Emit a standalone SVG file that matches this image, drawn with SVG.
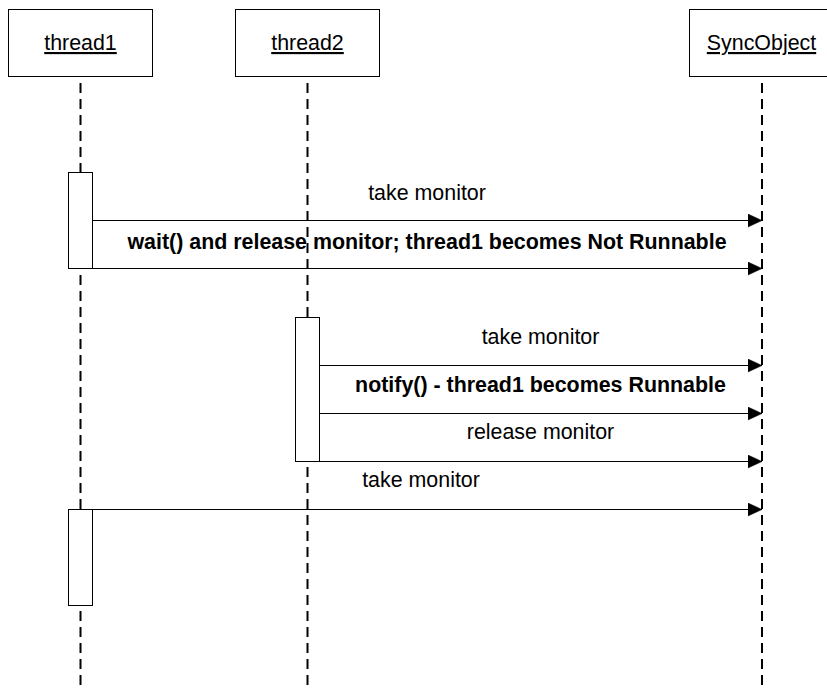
<svg xmlns="http://www.w3.org/2000/svg" width="827" height="689" viewBox="0 0 827 689">
<defs>
<marker id="arr" markerWidth="14" markerHeight="14" refX="14" refY="7" orient="auto" markerUnits="userSpaceOnUse">
<path d="M0,0.5 L14,7 L0,13.5 Z" fill="#000" stroke="#000" stroke-width="0.5"/>
</marker>
<style>
.box{fill:#fff;stroke:#000;stroke-width:1}
.act{fill:#fff;stroke:#000;stroke-width:1}
.life{stroke:#000;stroke-width:2;stroke-dasharray:10 6;fill:none}
.msg{stroke:#000;stroke-width:1;fill:none;marker-end:url(#arr)}
.lbl{font-family:"Liberation Sans",Arial,sans-serif;font-size:21.4px;fill:#000;text-anchor:middle}
.b{font-weight:bold}
.name{text-decoration:underline}
</style>
</defs>
<rect width="827" height="689" fill="#fff"/>
<g id="lifelines">
<line class="life" x1="80.5" y1="83" x2="80.5" y2="689"/>
<line class="life" x1="307.5" y1="83" x2="307.5" y2="689"/>
<line class="life" x1="762" y1="83" x2="762" y2="689"/>
</g>
<g id="thread1">
<rect class="box" x="8.5" y="9.5" width="144" height="67"/>
<text class="lbl name" x="80.5" y="50">thread1</text>
</g>
<g id="thread2">
<rect class="box" x="235.5" y="9.5" width="144" height="67"/>
<text class="lbl name" x="307.5" y="50">thread2</text>
</g>
<g id="SyncObject">
<rect class="box" x="689.5" y="9.5" width="144" height="67"/>
<text class="lbl name" x="761.5" y="50">SyncObject</text>
</g>
<g id="activation1">
<rect class="act" x="68.5" y="172.5" width="24" height="96"/>
</g>
<g id="activation2">
<rect class="act" x="295.5" y="317.5" width="24" height="144"/>
</g>
<g id="activation3">
<rect class="act" x="68.5" y="509.5" width="24" height="96"/>
</g>
<g id="connectors">
<line class="msg" x1="92.5" y1="220.5" x2="762" y2="220.5"/>
<line class="msg" x1="92.5" y1="268.5" x2="762" y2="268.5"/>
<line class="msg" x1="319.5" y1="365.5" x2="762" y2="365.5"/>
<line class="msg" x1="319.5" y1="413.5" x2="762" y2="413.5"/>
<line class="msg" x1="319.5" y1="461.5" x2="762" y2="461.5"/>
<line class="msg" x1="92.5" y1="509.5" x2="762" y2="509.5"/>
</g>
<g id="labels">
<text class="lbl" x="427" y="200">take monitor</text>
<text class="lbl b" x="427" y="249">wait() and release monitor; thread1 becomes Not Runnable</text>
<text class="lbl" x="540.5" y="344">take monitor</text>
<text class="lbl b" x="540.5" y="392">notify() - thread1 becomes Runnable</text>
<text class="lbl" x="540.5" y="439">release monitor</text>
<text class="lbl" x="421" y="487">take monitor</text>
</g>
</svg>
